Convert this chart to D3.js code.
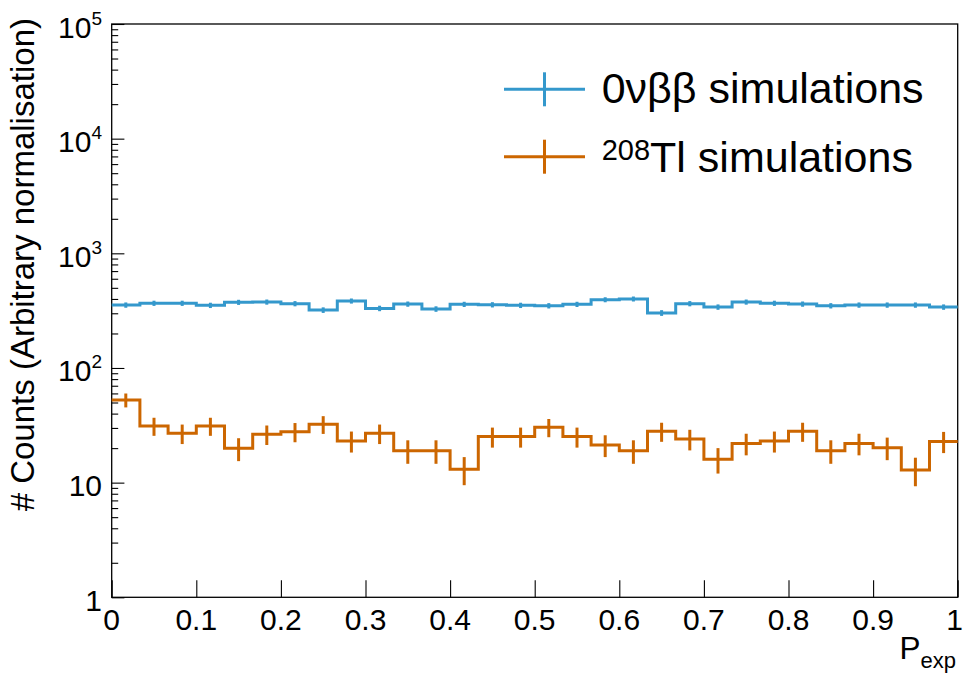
<!DOCTYPE html>
<html><head><meta charset="utf-8">
<script src="https://cdn.jsdelivr.net/npm/d3@7"></script>
<style>
html,body{margin:0;padding:0;background:#fff;}
svg{display:block;font-family:"Liberation Sans",Arial,Helvetica,sans-serif;}
</style></head>
<body><svg id="c" width="963" height="673"></svg>
<script>
// ---- data ----
const nBins = 30;
const xRange = [0, 1];
const xTickValues = [0, 0.1, 0.2, 0.3, 0.4, 0.5, 0.6, 0.7, 0.8, 0.9, 1];
const xTickLabels = ["0", "0.1", "0.2", "0.3", "0.4", "0.5", "0.6", "0.7", "0.8", "0.9", "1"];
const yTickValues = [1, 10, 100, 1000, 10000, 100000];
const yTickLabels = [["1", ""], ["10", ""], ["10", "2"], ["10", "3"], ["10", "4"], ["10", "5"]];
const seriesNames = ["0νββ simulations", "Tl simulations"];
const seriesSup = ["", "208"];
const seriesColors = ["#3498cc", "#cc6600"];
const onbbValues = [354, 367, 367, 352, 374, 376, 364, 320, 384, 331, 361, 327, 359, 356, 352,
                    349, 359, 394, 400, 302, 364, 340, 376, 367, 361, 349, 354, 354, 354, 340];
const onbbErrors = [18.8, 19.2, 19.2, 18.8, 19.3, 19.4, 19.1, 17.9, 19.6, 18.2, 19.0, 18.1, 18.9, 18.9, 18.8,
                    18.7, 18.9, 19.8, 20.0, 17.4, 19.1, 18.4, 19.4, 19.2, 19.0, 18.7, 18.8, 18.8, 18.8, 18.4];
const tlValues = [52.6, 31.2, 26.9, 31.2, 19.9, 26.4, 27.8, 32.3, 23.1, 26.9, 19.0, 19.0, 13.1, 25.2, 25.2,
                  30.4, 25.2, 21.3, 19.0, 28.0, 24.0, 16.0, 22.0, 23.1, 28.0, 19.0, 22.0, 20.2, 12.9, 22.9];
const tlErrors = [7.3, 5.6, 5.2, 5.6, 4.5, 5.1, 5.3, 5.7, 4.8, 5.2, 4.4, 4.4, 3.6, 5.0, 5.0,
                  5.5, 5.0, 4.6, 4.4, 5.3, 4.9, 4.0, 4.7, 4.8, 5.3, 4.4, 4.7, 4.5, 3.6, 4.8];
const xTitle = "P", xTitleSub = "exp";
const yTitle = "# Counts (Arbitrary normalisation)";

// ---- layout ----
const L = 111.7, R = 957.7, T = 24, B = 597.3;
const svg = d3.select("#c");
const x = d3.scaleLinear().domain(xRange).range([L, R]);
const y = d3.scaleLog().domain([1, 1e5]).range([B, T]);
const edges = d3.range(nBins + 1).map(i => xRange[0] + (xRange[1] - xRange[0]) * i / nBins);

// frame
svg.append("rect").attr("x", L).attr("y", T).attr("width", R - L).attr("height", B - T)
  .attr("fill", "none").attr("stroke", "#000").attr("stroke-width", 1.3);

// x axis ticks
const xAxis = d3.axisBottom(x).tickValues(xTickValues).tickSize(-17).tickFormat("");
const gx = svg.append("g").attr("transform", `translate(0,${B})`).call(xAxis);
gx.select(".domain").remove();
gx.selectAll("line").attr("stroke", "#000").attr("stroke-width", 1.1);
const nX = xTickValues.length;
svg.append("g").selectAll("text").data(xTickValues).join("text")
  .attr("x", (d, i) => i === nX - 1 ? 963 : x(d)).attr("y", 629.5)
  .attr("text-anchor", (d, i) => i === nX - 1 ? "end" : "middle")
  .attr("font-size", 30).text((d, i) => xTickLabels[i]);

// y axis ticks
const minors = [];
for (let p = 0; p < 5; p++) for (let k = 2; k <= 9; k++) minors.push(k * Math.pow(10, p));
const gyMin = svg.append("g").attr("transform", `translate(${L},0)`)
  .call(d3.axisLeft(y).tickValues(minors).tickSize(-6.5).tickFormat(""));
gyMin.select(".domain").remove();
const gyMaj = svg.append("g").attr("transform", `translate(${L},0)`)
  .call(d3.axisLeft(y).tickValues(yTickValues).tickSize(-12.7).tickFormat(""));
gyMaj.select(".domain").remove();
svg.selectAll(".tick line").attr("stroke", "#000").attr("stroke-width", 1.1);

const yl = svg.append("g").selectAll("text").data(yTickValues).join("text")
  .attr("x", 102).attr("y", d => y(d) + 13.5).attr("text-anchor", "end").attr("font-size", 30);
yl.each(function (d, i) {
  const t = d3.select(this);
  t.append("tspan").text(yTickLabels[i][0]);
  if (yTickLabels[i][1]) t.append("tspan").attr("font-size", 19).attr("dy", -13).text(yTickLabels[i][1]);
});

// titles
const xt = svg.append("text").attr("x", 956).attr("y", 658.5).attr("text-anchor", "end").attr("font-size", 31.5);
xt.append("tspan").text(xTitle);
xt.append("tspan").attr("font-size", 22).attr("dy", 9).text(xTitleSub);
svg.append("text").attr("transform", "translate(34,18) rotate(-90)")
  .attr("text-anchor", "end").attr("font-size", 33).text(yTitle);

// histograms
function drawHist(values, errors, color) {
  const pts = [];
  values.forEach((v, i) => { pts.push([edges[i], v]); pts.push([edges[i + 1], v]); });
  const line = d3.line().x(d => x(d[0])).y(d => y(d[1]));
  svg.append("path").attr("d", line(pts)).attr("fill", "none")
    .attr("stroke", color).attr("stroke-width", 3).attr("stroke-linejoin", "miter");
  svg.append("g").selectAll("line").data(values).join("line")
    .attr("x1", (d, i) => x((edges[i] + edges[i + 1]) / 2))
    .attr("x2", (d, i) => x((edges[i] + edges[i + 1]) / 2))
    .attr("y1", (d, i) => y(d - errors[i])).attr("y2", (d, i) => y(d + errors[i]))
    .attr("stroke", color).attr("stroke-width", 3);
}
drawHist(onbbValues, onbbErrors, seriesColors[0]);
drawHist(tlValues, tlErrors, seriesColors[1]);

// legend
const legY = [89.3, 156.7], legBase = [103.3, 171.7];
seriesNames.forEach((name, i) => {
  const g = svg.append("g");
  g.append("line").attr("x1", 504).attr("x2", 585).attr("y1", legY[i]).attr("y2", legY[i])
    .attr("stroke", seriesColors[i]).attr("stroke-width", 3);
  g.append("line").attr("x1", 544.5).attr("x2", 544.5).attr("y1", legY[i] - 17).attr("y2", legY[i] + 17)
    .attr("stroke", seriesColors[i]).attr("stroke-width", 3);
  const t = g.append("text").attr("x", 601.7).attr("y", legBase[i]).attr("font-size", 43);
  if (seriesSup[i]) {
    t.append("tspan").attr("font-size", 29).attr("dy", -12).text(seriesSup[i]);
    t.append("tspan").attr("dy", 12).text(name);
  } else t.text(name);
});
</script></body></html>
